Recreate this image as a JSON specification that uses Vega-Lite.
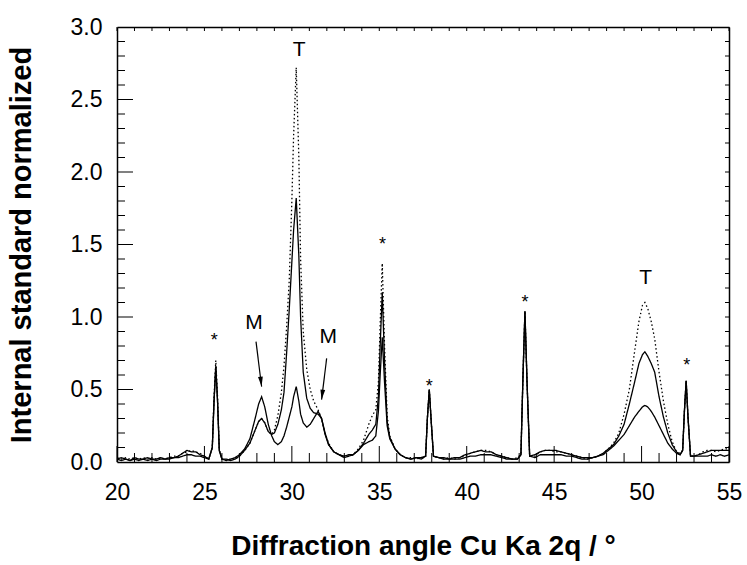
{
  "$schema": "https://vega.github.io/schema/vega-lite/v6.json",
  "width": 612,
  "height": 435,
  "autosize": "none",
  "padding": {"left": 117, "top": 27, "right": 18, "bottom": 103},
  "background": "white",
  "config": {"view": {"stroke": null}, "font": "Liberation Sans"},
  "datasets": {
    "xrd": [
      {"x":20.0,"D":0.03,"B":0.02,"S":0.02},{"x":20.25,"D":0.02,"B":0.03,"S":0.01},{"x":20.5,"D":0.03,"B":0.02,"S":0.02},{"x":20.75,"D":0.02,"B":0.01,"S":0.01},
      {"x":21.0,"D":0.03,"B":0.03,"S":0.02},{"x":21.25,"D":0.02,"B":0.02,"S":0.01},{"x":21.5,"D":0.03,"B":0.02,"S":0.02},{"x":21.75,"D":0.02,"B":0.03,"S":0.01},
      {"x":22.0,"D":0.03,"B":0.02,"S":0.02},{"x":22.25,"D":0.02,"B":0.02,"S":0.01},{"x":22.5,"D":0.03,"B":0.03,"S":0.02},{"x":22.75,"D":0.02,"B":0.02,"S":0.02},
      {"x":23.0,"D":0.03,"B":0.03,"S":0.02},{"x":23.25,"D":0.04,"B":0.03,"S":0.03},{"x":23.5,"D":0.04,"B":0.04,"S":0.03},{"x":23.75,"D":0.06,"B":0.06,"S":0.04},
      {"x":24.0,"D":0.07,"B":0.08,"S":0.05},{"x":24.25,"D":0.08,"B":0.07,"S":0.05},{"x":24.5,"D":0.07,"B":0.07,"S":0.04},{"x":24.75,"D":0.06,"B":0.05,"S":0.04},
      {"x":25.0,"D":0.04,"B":0.04,"S":0.03},{"x":25.25,"D":0.02,"B":0.02,"S":0.02},{"x":25.45,"D":0.10,"B":0.10,"S":0.10},{"x":25.55,"D":0.45,"B":0.42,"S":0.42},
      {"x":25.65,"D":0.70,"B":0.66,"S":0.66},{"x":25.75,"D":0.45,"B":0.42,"S":0.42},{"x":25.85,"D":0.08,"B":0.08,"S":0.08},{"x":26.0,"D":0.02,"B":0.02,"S":0.02},
      {"x":26.25,"D":0.01,"B":0.02,"S":0.01},{"x":26.5,"D":0.02,"B":0.01,"S":0.02},{"x":26.75,"D":0.02,"B":0.02,"S":0.03},{"x":27.0,"D":0.04,"B":0.04,"S":0.05},
      {"x":27.3,"D":0.08,"B":0.08,"S":0.09},{"x":27.6,"D":0.13,"B":0.13,"S":0.16},{"x":27.9,"D":0.22,"B":0.22,"S":0.30},{"x":28.1,"D":0.28,"B":0.28,"S":0.40},
      {"x":28.27,"D":0.30,"B":0.30,"S":0.45},{"x":28.45,"D":0.27,"B":0.27,"S":0.38},{"x":28.65,"D":0.21,"B":0.21,"S":0.26},{"x":28.85,"D":0.19,"B":0.19,"S":0.18},
      {"x":29.0,"D":0.22,"B":0.20,"S":0.14},{"x":29.2,"D":0.32,"B":0.26,"S":0.12},{"x":29.4,"D":0.48,"B":0.36,"S":0.14},{"x":29.55,"D":0.66,"B":0.48,"S":0.18},
      {"x":29.7,"D":0.93,"B":0.75,"S":0.24},{"x":29.85,"D":1.25,"B":1.05,"S":0.31},{"x":30.0,"D":1.80,"B":1.38,"S":0.38},{"x":30.1,"D":2.25,"B":1.60,"S":0.45},
      {"x":30.25,"D":2.72,"B":1.82,"S":0.52},{"x":30.4,"D":2.10,"B":1.42,"S":0.42},{"x":30.5,"D":1.40,"B":1.00,"S":0.33},{"x":30.65,"D":0.90,"B":0.62,"S":0.27},
      {"x":30.85,"D":0.64,"B":0.44,"S":0.24},{"x":31.05,"D":0.50,"B":0.37,"S":0.26},{"x":31.25,"D":0.42,"B":0.34,"S":0.30},{"x":31.5,"D":0.36,"B":0.33,"S":0.35},
      {"x":31.7,"D":0.30,"B":0.30,"S":0.30},{"x":31.9,"D":0.20,"B":0.19,"S":0.20},{"x":32.1,"D":0.13,"B":0.12,"S":0.12},{"x":32.4,"D":0.07,"B":0.07,"S":0.07},
      {"x":32.7,"D":0.05,"B":0.05,"S":0.05},{"x":33.0,"D":0.04,"B":0.04,"S":0.03},{"x":33.25,"D":0.04,"B":0.05,"S":0.04},{"x":33.5,"D":0.05,"B":0.05,"S":0.05},
      {"x":33.8,"D":0.09,"B":0.08,"S":0.08},{"x":34.1,"D":0.15,"B":0.13,"S":0.12},{"x":34.4,"D":0.26,"B":0.19,"S":0.14},{"x":34.6,"D":0.32,"B":0.22,"S":0.15},
      {"x":34.8,"D":0.36,"B":0.26,"S":0.18},{"x":34.95,"D":0.55,"B":0.45,"S":0.35},{"x":35.05,"D":0.95,"B":0.80,"S":0.60},{"x":35.17,"D":1.37,"B":1.17,"S":0.86},
      {"x":35.3,"D":0.80,"B":0.70,"S":0.55},{"x":35.45,"D":0.32,"B":0.28,"S":0.25},{"x":35.6,"D":0.18,"B":0.17,"S":0.16},{"x":35.9,"D":0.09,"B":0.09,"S":0.09},
      {"x":36.2,"D":0.05,"B":0.05,"S":0.05},{"x":36.5,"D":0.03,"B":0.03,"S":0.03},{"x":36.8,"D":0.03,"B":0.02,"S":0.02},{"x":37.1,"D":0.02,"B":0.03,"S":0.03},
      {"x":37.4,"D":0.03,"B":0.02,"S":0.03},{"x":37.65,"D":0.04,"B":0.04,"S":0.04},{"x":37.75,"D":0.30,"B":0.30,"S":0.30},{"x":37.86,"D":0.50,"B":0.50,"S":0.50},
      {"x":37.97,"D":0.28,"B":0.28,"S":0.28},{"x":38.1,"D":0.04,"B":0.04,"S":0.04},{"x":38.4,"D":0.03,"B":0.03,"S":0.03},{"x":38.7,"D":0.02,"B":0.03,"S":0.02},
      {"x":39.0,"D":0.03,"B":0.02,"S":0.02},{"x":39.3,"D":0.02,"B":0.03,"S":0.02},{"x":39.6,"D":0.03,"B":0.03,"S":0.02},{"x":39.9,"D":0.04,"B":0.05,"S":0.03},
      {"x":40.2,"D":0.06,"B":0.06,"S":0.04},{"x":40.5,"D":0.07,"B":0.07,"S":0.04},{"x":40.8,"D":0.08,"B":0.08,"S":0.05},{"x":41.1,"D":0.08,"B":0.07,"S":0.05},
      {"x":41.4,"D":0.07,"B":0.07,"S":0.05},{"x":41.7,"D":0.05,"B":0.05,"S":0.04},{"x":42.0,"D":0.04,"B":0.04,"S":0.03},{"x":42.3,"D":0.03,"B":0.03,"S":0.02},
      {"x":42.6,"D":0.02,"B":0.02,"S":0.02},{"x":42.9,"D":0.03,"B":0.02,"S":0.02},{"x":43.1,"D":0.05,"B":0.05,"S":0.05},{"x":43.22,"D":0.60,"B":0.60,"S":0.60},
      {"x":43.33,"D":1.04,"B":1.04,"S":1.04},{"x":43.45,"D":0.55,"B":0.55,"S":0.55},{"x":43.6,"D":0.04,"B":0.04,"S":0.04},{"x":43.9,"D":0.04,"B":0.05,"S":0.03},
      {"x":44.2,"D":0.07,"B":0.07,"S":0.05},{"x":44.5,"D":0.08,"B":0.08,"S":0.05},{"x":44.8,"D":0.08,"B":0.08,"S":0.05},{"x":45.1,"D":0.07,"B":0.08,"S":0.05},
      {"x":45.4,"D":0.07,"B":0.07,"S":0.05},{"x":45.7,"D":0.06,"B":0.06,"S":0.04},{"x":46.0,"D":0.05,"B":0.05,"S":0.04},{"x":46.3,"D":0.04,"B":0.04,"S":0.03},
      {"x":46.6,"D":0.03,"B":0.03,"S":0.02},{"x":46.9,"D":0.02,"B":0.03,"S":0.02},{"x":47.2,"D":0.03,"B":0.03,"S":0.03},{"x":47.5,"D":0.04,"B":0.04,"S":0.04},
      {"x":47.8,"D":0.06,"B":0.06,"S":0.05},{"x":48.1,"D":0.09,"B":0.09,"S":0.08},{"x":48.4,"D":0.13,"B":0.12,"S":0.11},{"x":48.7,"D":0.20,"B":0.18,"S":0.15},
      {"x":49.0,"D":0.33,"B":0.26,"S":0.19},{"x":49.3,"D":0.50,"B":0.40,"S":0.25},{"x":49.6,"D":0.76,"B":0.55,"S":0.31},{"x":49.85,"D":0.97,"B":0.68,"S":0.35},
      {"x":50.05,"D":1.08,"B":0.74,"S":0.38},{"x":50.19,"D":1.10,"B":0.76,"S":0.39},{"x":50.35,"D":1.06,"B":0.73,"S":0.38},{"x":50.55,"D":0.97,"B":0.68,"S":0.35},
      {"x":50.75,"D":0.85,"B":0.62,"S":0.31},{"x":51.0,"D":0.62,"B":0.45,"S":0.25},{"x":51.25,"D":0.42,"B":0.31,"S":0.19},{"x":51.5,"D":0.26,"B":0.20,"S":0.13},
      {"x":51.75,"D":0.14,"B":0.12,"S":0.09},{"x":52.0,"D":0.07,"B":0.07,"S":0.06},{"x":52.2,"D":0.06,"B":0.05,"S":0.05},{"x":52.35,"D":0.08,"B":0.08,"S":0.08},
      {"x":52.45,"D":0.35,"B":0.35,"S":0.35},{"x":52.55,"D":0.56,"B":0.56,"S":0.56},{"x":52.65,"D":0.32,"B":0.32,"S":0.32},{"x":52.8,"D":0.04,"B":0.04,"S":0.04},
      {"x":53.0,"D":0.04,"B":0.04,"S":0.04},{"x":53.25,"D":0.05,"B":0.05,"S":0.04},{"x":53.5,"D":0.07,"B":0.06,"S":0.04},{"x":53.75,"D":0.08,"B":0.07,"S":0.04},
      {"x":54.0,"D":0.08,"B":0.08,"S":0.05},{"x":54.25,"D":0.07,"B":0.08,"S":0.04},{"x":54.5,"D":0.08,"B":0.08,"S":0.05},{"x":54.75,"D":0.09,"B":0.08,"S":0.04},
      {"x":55.0,"D":0.09,"B":0.08,"S":0.05}
    ],
    "labels": [
      {"x":30.42,"y":2.84,"label":"T"},
      {"x":27.83,"y":0.96,"label":"M"},
      {"x":32.08,"y":0.86,"label":"M"},
      {"x":50.23,"y":1.27,"label":"T"}
    ],
    "stars": [
      {"x":25.56,"y":0.87},
      {"x":35.19,"y":1.53},
      {"x":37.86,"y":0.55},
      {"x":43.33,"y":1.13},
      {"x":52.58,"y":0.70}
    ],
    "arrows": [
      {"x":27.95,"y":0.83,"x2":28.27,"y2":0.52},
      {"x":31.99,"y":0.715,"x2":31.70,"y2":0.43}
    ],
    "xmajor": [{"v":20},{"v":25},{"v":30},{"v":35},{"v":40},{"v":45},{"v":50},{"v":55}],
    "xminor": [{"v":21},{"v":22},{"v":23},{"v":24},{"v":26},{"v":27},{"v":28},{"v":29},{"v":31},{"v":32},{"v":33},{"v":34},{"v":36},{"v":37},{"v":38},{"v":39},{"v":41},{"v":42},{"v":43},{"v":44},{"v":46},{"v":47},{"v":48},{"v":49},{"v":51},{"v":52},{"v":53},{"v":54}],
    "xall": [{"v":20},{"v":21},{"v":22},{"v":23},{"v":24},{"v":25},{"v":26},{"v":27},{"v":28},{"v":29},{"v":30},{"v":31},{"v":32},{"v":33},{"v":34},{"v":35},{"v":36},{"v":37},{"v":38},{"v":39},{"v":40},{"v":41},{"v":42},{"v":43},{"v":44},{"v":45},{"v":46},{"v":47},{"v":48},{"v":49},{"v":50},{"v":51},{"v":52},{"v":53},{"v":54},{"v":55}],
    "ymajor": [{"v":0.5},{"v":1.0},{"v":1.5},{"v":2.0},{"v":2.5}],
    "yminor": [{"v":0.1},{"v":0.2},{"v":0.3},{"v":0.4},{"v":0.6},{"v":0.7},{"v":0.8},{"v":0.9},{"v":1.1},{"v":1.2},{"v":1.3},{"v":1.4},{"v":1.6},{"v":1.7},{"v":1.8},{"v":1.9},{"v":2.1},{"v":2.2},{"v":2.3},{"v":2.4},{"v":2.6},{"v":2.7},{"v":2.8},{"v":2.9}],
    "yall": [{"v":0.1},{"v":0.2},{"v":0.3},{"v":0.4},{"v":0.5},{"v":0.6},{"v":0.7},{"v":0.8},{"v":0.9},{"v":1.0},{"v":1.1},{"v":1.2},{"v":1.3},{"v":1.4},{"v":1.5},{"v":1.6},{"v":1.7},{"v":1.8},{"v":1.9},{"v":2.0},{"v":2.1},{"v":2.2},{"v":2.3},{"v":2.4},{"v":2.5},{"v":2.6},{"v":2.7},{"v":2.8},{"v":2.9}]
  },
  "layer": [
    {
      "data": {"name": "xrd"},
      "transform": [{"fold": ["S", "B", "D"], "as": ["series", "value"]}],
      "mark": {"type": "line", "color": "black", "strokeWidth": 1.3, "clip": true},
      "encoding": {
        "x": {
          "field": "x", "type": "quantitative",
          "scale": {"domain": [20, 55], "nice": false, "zero": false},
          "axis": {
            "orient": "bottom",
            "values": [20,25,30,35,40,45,50,55],
            "ticks": false,
            "domainColor": "black", "domainWidth": 1.5,
            "grid": false,
            "labelFont": "Liberation Sans", "labelFontSize": 23, "labelColor": "black",
            "labelPadding": 19, "labelFlush": false,
            "title": "Diffraction angle Cu Ka 2q / °",
            "titleFont": "Liberation Sans", "titleFontSize": 28, "titleFontWeight": "bold", "titleColor": "black",
            "titlePadding": 28
          }
        },
        "y": {
          "field": "value", "type": "quantitative",
          "scale": {"domain": [0, 3], "nice": false, "zero": true},
          "axis": {
            "orient": "left",
            "values": [0,0.5,1,1.5,2,2.5,3],
            "format": ".1f",
            "ticks": false,
            "domainColor": "black", "domainWidth": 1.5,
            "grid": false,
            "labelFont": "Liberation Sans", "labelFontSize": 23, "labelColor": "black",
            "labelPadding": 15, "labelFlush": false,
            "title": "Internal standard normalized",
            "titleFont": "Liberation Sans", "titleFontSize": 29, "titleFontWeight": "bold", "titleColor": "black",
            "titlePadding": 34
          }
        },
        "strokeDash": {
          "field": "series", "type": "nominal",
          "scale": {"domain": ["D", "B", "S"], "range": [[1.5, 2.5], [1, 0], [1, 0]]},
          "legend": null
        }
      }
    },
    {
      "data": {"name": "labels"},
      "mark": {"type": "text", "fontSize": 21, "font": "Liberation Sans", "color": "black", "align": "center", "baseline": "middle"},
      "encoding": {
        "x": {
          "field": "x", "type": "quantitative",
          "axis": {"orient": "top", "ticks": false, "labels": false, "title": null, "grid": false, "domainColor": "black", "domainWidth": 1.5}
        },
        "y": {
          "field": "y", "type": "quantitative",
          "axis": {"orient": "right", "ticks": false, "labels": false, "title": null, "grid": false, "domainColor": "black", "domainWidth": 1.5}
        },
        "text": {"field": "label"}
      }
    },
    {
      "data": {"name": "xmajor"},
      "mark": {"type": "tick", "orient": "vertical", "color": "black", "size": 16, "thickness": 1, "yOffset": -8, "opacity": 1},
      "encoding": {
        "x": {"field": "v", "type": "quantitative", "axis": null},
        "y": {"datum": 0, "type": "quantitative", "axis": null}
      }
    },
    {
      "data": {"name": "xminor"},
      "mark": {"type": "tick", "orient": "vertical", "color": "black", "size": 9, "thickness": 1, "yOffset": -4.5, "opacity": 1},
      "encoding": {
        "x": {"field": "v", "type": "quantitative", "axis": null},
        "y": {"datum": 0, "type": "quantitative", "axis": null}
      }
    },
    {
      "data": {"name": "xall"},
      "mark": {"type": "tick", "orient": "vertical", "color": "black", "size": 4, "thickness": 1, "yOffset": 2, "opacity": 1},
      "encoding": {
        "x": {"field": "v", "type": "quantitative", "axis": null},
        "y": {"datum": 3, "type": "quantitative", "axis": null}
      }
    },
    {
      "data": {"name": "ymajor"},
      "mark": {"type": "tick", "orient": "horizontal", "color": "black", "size": 16, "thickness": 1, "xOffset": 8, "opacity": 1},
      "encoding": {
        "y": {"field": "v", "type": "quantitative", "axis": null},
        "x": {"datum": 20, "type": "quantitative", "axis": null}
      }
    },
    {
      "data": {"name": "yminor"},
      "mark": {"type": "tick", "orient": "horizontal", "color": "black", "size": 8, "thickness": 1, "xOffset": 4, "opacity": 1},
      "encoding": {
        "y": {"field": "v", "type": "quantitative", "axis": null},
        "x": {"datum": 20, "type": "quantitative", "axis": null}
      }
    },
    {
      "data": {"name": "yall"},
      "mark": {"type": "tick", "orient": "horizontal", "color": "black", "size": 4, "thickness": 1, "xOffset": -2, "opacity": 1},
      "encoding": {
        "y": {"field": "v", "type": "quantitative", "axis": null},
        "x": {"datum": 55, "type": "quantitative", "axis": null}
      }
    },
    {
      "data": {"name": "stars"},
      "mark": {"type": "text", "text": "*", "fontSize": 18, "font": "Liberation Sans", "color": "black", "align": "center", "baseline": "middle", "dy": 5},
      "encoding": {
        "x": {"field": "x", "type": "quantitative", "axis": null},
        "y": {"field": "y", "type": "quantitative", "axis": null}
      }
    },
    {
      "data": {"name": "arrows"},
      "mark": {"type": "rule", "color": "black", "strokeWidth": 1.2},
      "encoding": {
        "x": {"field": "x", "type": "quantitative", "axis": null},
        "y": {"field": "y", "type": "quantitative", "axis": null},
        "x2": {"field": "x2"},
        "y2": {"field": "y2"}
      }
    },
    {
      "data": {"name": "arrows"},
      "mark": {"type": "point", "shape": "M0,0L-0.6,-2.5L0.6,-2.5Z", "filled": true, "color": "black", "size": 64, "opacity": 1},
      "encoding": {
        "x": {"field": "x2", "type": "quantitative", "axis": null},
        "y": {"field": "y2", "type": "quantitative", "axis": null},
        "angle": {"condition": {"test": "datum.x2 > datum.x", "value": -7}, "value": 7}
      }
    }
  ],
  "resolve": {"axis": {"x": "independent", "y": "independent"}}
}
